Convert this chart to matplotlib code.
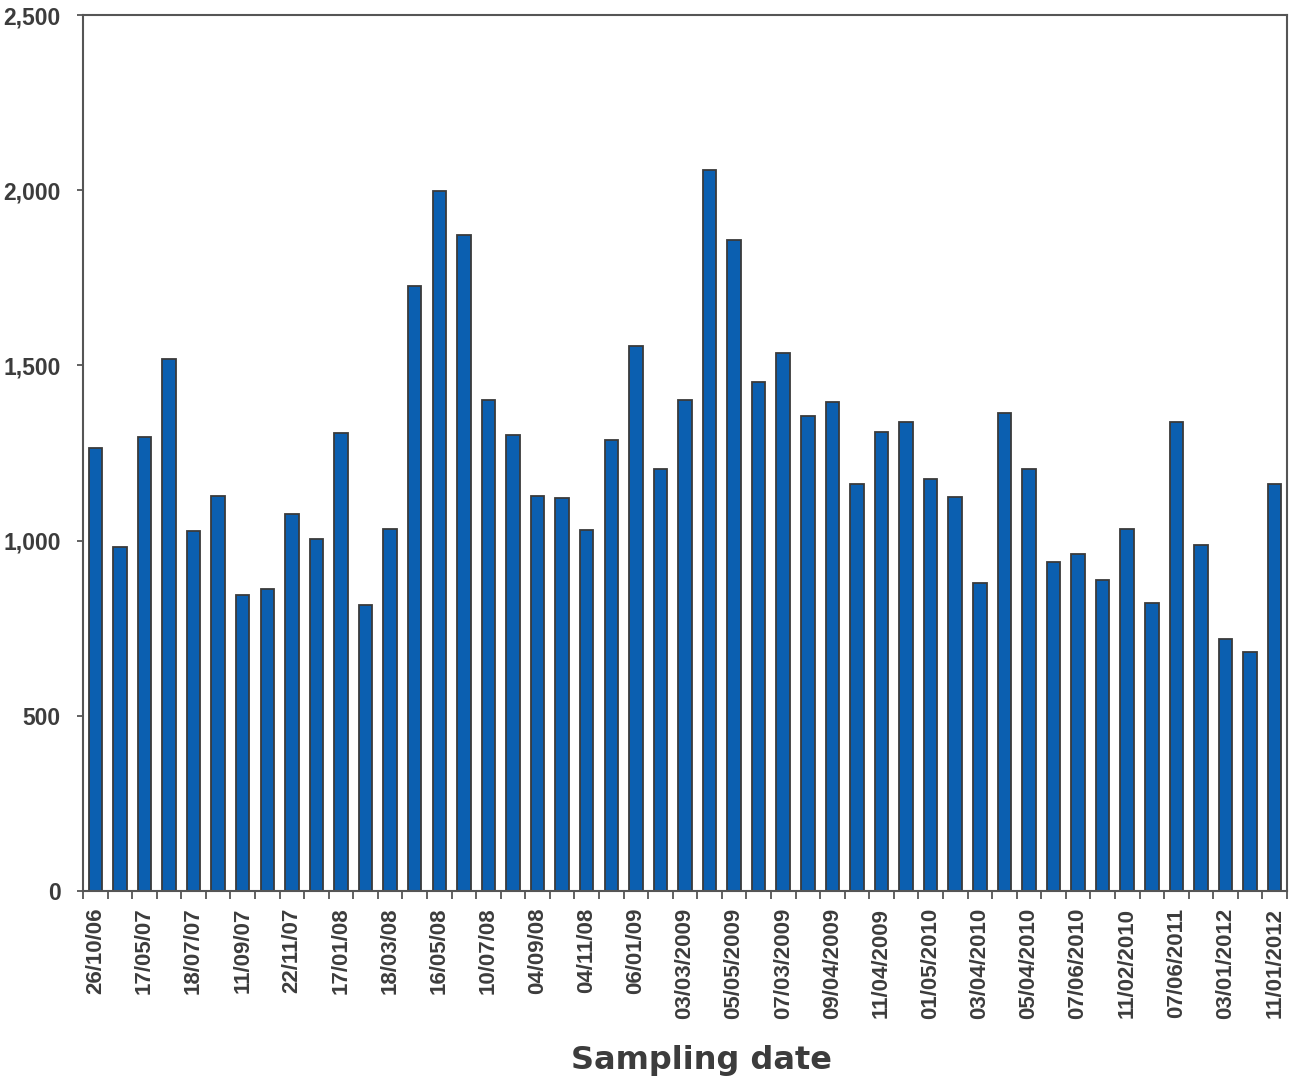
import matplotlib
matplotlib.use("Agg")
import matplotlib.pyplot as plt
import numpy as np

# Sampling dates (one label per second bar) and measured values
tick_labels = ["26/10/06", "17/05/07", "18/07/07", "11/09/07", "22/11/07",
               "17/01/08", "18/03/08", "16/05/08", "10/07/08", "04/09/08",
               "04/11/08", "06/01/09", "03/03/2009", "05/05/2009", "07/03/2009",
               "09/04/2009", "11/04/2009", "01/05/2010", "03/04/2010",
               "05/04/2010", "07/06/2010", "11/02/2010", "07/06/2011",
               "03/01/2012", "11/01/2012"]

values = [1265, 983, 1296, 1518, 1027, 1127, 846, 861, 1075, 1006,
          1308, 817, 1032, 1727, 1997, 1872, 1401, 1303, 1127, 1121,
          1031, 1288, 1555, 1204, 1402, 2058, 1859, 1454, 1537, 1355,
          1395, 1161, 1309, 1338, 1177, 1125, 880, 1365, 1204, 940,
          962, 889, 1034, 822, 1340, 988, 720, 682, 1161]

text_color = "#3c3c3c"
bar_color = "#0b5fb0"

fig = plt.figure(figsize=(12.89, 10.82), dpi=100)
ax = fig.add_axes([0.0644, 0.1765, 0.934, 0.8095])

x = np.arange(len(values))
ax.bar(x, values, width=0.55, color=bar_color, edgecolor="#3a3a3a",
       linewidth=1.3, zorder=2)

ax.set_xlim(-0.5, len(values) - 0.5)
ax.set_ylim(0, 2500)

# y axis
ax.set_yticks([0, 500, 1000, 1500, 2000, 2500])
ax.set_yticklabels(["0", "500", "1,000", "1,500", "2,000", "2,500"],
                   fontfamily="Liberation Sans", fontweight="bold",
                   fontsize=16.5, color=text_color)
ax.tick_params(axis="y", direction="out", length=4, width=1.3,
               color="#555555", pad=12)

# x axis: labels under every second bar, tick marks at category boundaries
ax.set_xticks(x[::2])
ax.set_xticklabels(tick_labels, rotation=90, fontfamily="Liberation Sans",
                   fontweight="bold", fontsize=16, color=text_color)
ax.tick_params(axis="x", which="major", length=0, pad=12)
ax.set_xticks(np.arange(-0.5, len(values) + 0.5, 1.0), minor=True)
ax.tick_params(axis="x", which="minor", direction="out", length=6,
               width=1.3, color="#555555")

for side in ["left", "right", "top", "bottom"]:
    ax.spines[side].set_color("#555555")
    ax.spines[side].set_linewidth(1.5)

fig.text(0.544, 0.006, "Sampling date", ha="center", va="bottom",
         fontfamily="DejaVu Sans", fontweight="bold", fontsize=23,
         color=text_color)

fig.savefig("out.png", dpi=100, facecolor="white")
